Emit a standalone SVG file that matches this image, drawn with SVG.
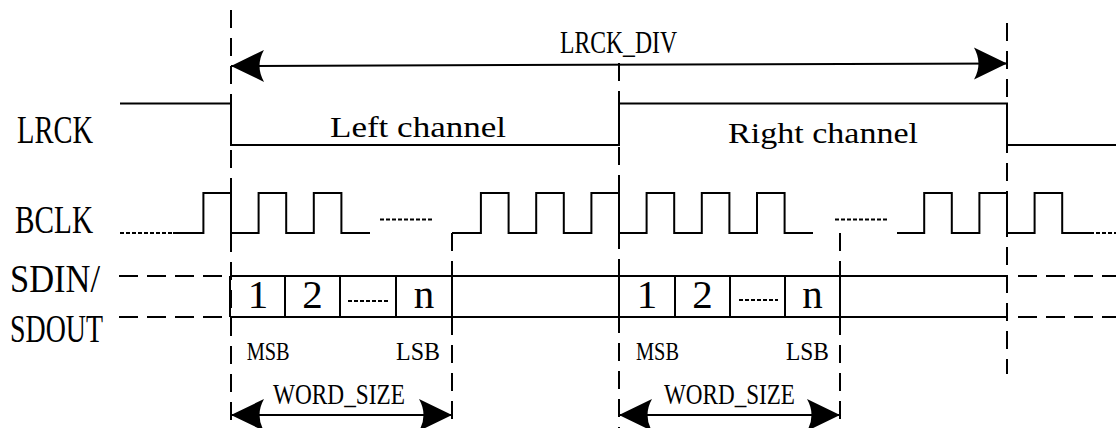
<svg xmlns="http://www.w3.org/2000/svg" width="1116" height="428" viewBox="0 0 1116 428">
<defs>
<style>
.ln{fill:none;stroke:#000;stroke-width:2}
.dv{fill:none;stroke:#000;stroke-width:2;stroke-dasharray:18 10}
.dh{fill:none;stroke:#000;stroke-width:2;stroke-dasharray:19 9}
.dot{fill:none;stroke:#000;stroke-width:2;stroke-dasharray:4 2}
text{font-family:"Liberation Serif","DejaVu Serif",serif;fill:#000}
.big{font-size:40px}
.mid{font-size:30px}
.sm{font-size:26px}
.dig{font-size:41px}
</style>
<marker id="ah" markerUnits="userSpaceOnUse" markerWidth="36" markerHeight="36" viewBox="-34 -18 36 36" refX="0" refY="0" orient="auto-start-reverse">
<path d="M0,0 L-33,-16 Q-24,0 -33,16 Z" fill="#000"/>
</marker>
</defs>

<g id="labels">
<text class="big" x="17" y="143" textLength="76" lengthAdjust="spacingAndGlyphs">LRCK</text>
<text class="big" x="15" y="233" textLength="78" lengthAdjust="spacingAndGlyphs">BCLK</text>
<text class="big" x="10" y="291.5" textLength="90" lengthAdjust="spacingAndGlyphs">SDIN/</text>
<text class="big" x="10" y="341.5" textLength="93" lengthAdjust="spacingAndGlyphs">SDOUT</text>
</g>

<g id="guides">
<line class="dv" x1="231" y1="10" x2="231" y2="428"/>
<line class="dv" x1="619" y1="63" x2="619" y2="428"/>
<line class="dv" x1="1007" y1="23" x2="1007" y2="374"/>
<line class="dv" x1="452" y1="233" x2="452" y2="428"/>
<line class="dv" x1="840" y1="233" x2="840" y2="428"/>
</g>

<g id="lrck">
<path class="ln" d="M120,103.5 H231 V145 H619 V103.5 H1007 V145 H1116"/>
<text class="mid" x="330" y="137" textLength="176" lengthAdjust="spacingAndGlyphs">Left channel</text>
<text class="mid" x="728" y="143" textLength="190" lengthAdjust="spacingAndGlyphs">Right channel</text>
</g>

<g id="bclk">
<line class="dot" x1="120" y1="233" x2="173" y2="233"/>
<path class="ln" d="M173,233 H203.4 V193 H231 V233 H258.6 V193 H286.2 V233 H313.8 V193 H341.4 V233 H370"/>
<line class="dot" x1="380" y1="219.5" x2="433" y2="219.5"/>
<path class="ln" d="M452,233 H480.9 V193 H508.6 V233 H536.2 V193 H563.8 V233 H591.4 V193 H619 V233 H646.6 V193 H674.2 V233 H701.8 V193 H729.4 V233 H757 V193 H784.6 V233 H813"/>
<line class="dot" x1="835" y1="219.5" x2="888" y2="219.5"/>
<path class="ln" d="M897,233 H924.2 V193 H951.8 V233 H979.4 V193 H1007 V233 H1034.6 V193 H1062.2 V233 H1090"/>
<line class="dot" x1="1090" y1="233" x2="1116" y2="233"/>
</g>

<g id="data">
<line class="dh" x1="119" y1="276" x2="224" y2="276"/>
<line class="dh" x1="119" y1="317" x2="224" y2="317"/>
<line class="ln" x1="230" y1="276" x2="1008" y2="276"/>
<line class="ln" x1="230" y1="317" x2="1008" y2="317"/>
<line class="dh" x1="1018" y1="276" x2="1116" y2="276"/>
<line class="dh" x1="1018" y1="317" x2="1116" y2="317"/>
<path class="ln" d="M230,276 V317 M285,276 V317 M340,276 V317 M396,276 V317 M452,276 V317 M619,276 V317 M675,276 V317 M730,276 V317 M785,276 V317 M840,276 V317"/>
<text class="dig" x="258" y="308" text-anchor="middle">1</text>
<text class="dig" x="312.5" y="308" text-anchor="middle">2</text>
<line class="dot" x1="348" y1="301" x2="388" y2="301"/>
<text class="dig" x="424" y="308" text-anchor="middle">n</text>
<text class="dig" x="647" y="308" text-anchor="middle">1</text>
<text class="dig" x="702.5" y="308" text-anchor="middle">2</text>
<line class="dot" x1="739" y1="300" x2="778" y2="300"/>
<text class="dig" x="812.5" y="308" text-anchor="middle">n</text>
<text class="sm" x="246.7" y="360" textLength="43" lengthAdjust="spacingAndGlyphs">MSB</text>
<text class="sm" x="396" y="360" textLength="44" lengthAdjust="spacingAndGlyphs">LSB</text>
<text class="sm" x="636" y="360" textLength="43" lengthAdjust="spacingAndGlyphs">MSB</text>
<text class="sm" x="786" y="360" textLength="43" lengthAdjust="spacingAndGlyphs">LSB</text>
</g>

<g id="connectors">
<line class="ln" x1="231" y1="66" x2="1007" y2="63.5" marker-start="url(#ah)" marker-end="url(#ah)"/>
<text x="560" y="53" style="font-size:31px" textLength="117" lengthAdjust="spacingAndGlyphs">LRCK_DIV</text>
<line class="ln" x1="231" y1="415" x2="452" y2="415" marker-start="url(#ah)" marker-end="url(#ah)"/>
<text class="mid" x="273" y="404" textLength="132" lengthAdjust="spacingAndGlyphs">WORD_SIZE</text>
<line class="ln" x1="619" y1="415" x2="840" y2="415" marker-start="url(#ah)" marker-end="url(#ah)"/>
<text class="mid" x="664" y="404" textLength="131" lengthAdjust="spacingAndGlyphs">WORD_SIZE</text>
</g>
</svg>
